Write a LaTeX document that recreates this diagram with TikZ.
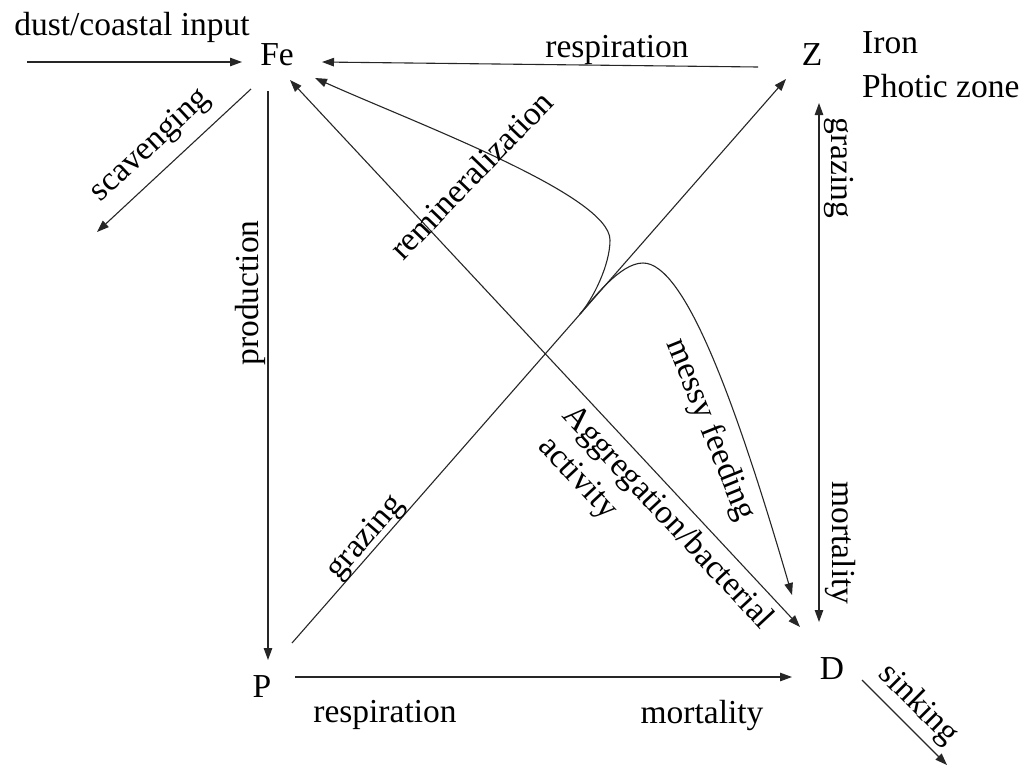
\documentclass[tikz,border=0pt]{standalone}
\usepackage{fontspec}
\setmainfont{Liberation Serif}
\usetikzlibrary{arrows.meta}
\begin{document}
\begin{tikzpicture}[x=1pt,y=-1pt,
  lbl/.style={font=\fontsize{33.5}{38}\selectfont, inner sep=0pt},
  flow/.style={line width=1.1pt, draw=black!85, -{Triangle[length=12pt,width=8.5pt]}},
  biflow/.style={line width=1.1pt, draw=black!85, {Triangle[length=12pt,width=8.5pt]}-{Triangle[length=12pt,width=8.5pt]}}
  ]
\useasboundingbox[fill=white] (0,0) rectangle (1027,769);

% compartments
\node[lbl, anchor=base] (Fe) at (277,65) {Fe};
\node[lbl, anchor=base] (Z) at (812,65) {Z};
\node[lbl, anchor=base] (P) at (262,697) {P};
\node[lbl, anchor=base] (D) at (832,679) {D};

% connector ends
\coordinate (inS) at (27,62);
\coordinate (FeW) at (242,62);
\coordinate (FeSW) at (251,89);
\coordinate (scavE) at (97,232);
\coordinate (FeS) at (268,91);
\coordinate (PN) at (268,660);
\coordinate (PE) at (295,677);
\coordinate (DW) at (792,677);
\coordinate (DSE) at (862,680);
\coordinate (sinkE) at (947,765);
\coordinate (ZW) at (758,67);
\coordinate (FeE) at (322,62);
\coordinate (ZS) at (819,103);
\coordinate (DN) at (819,622);
\coordinate (PNE) at (292,643);
\coordinate (ZSW) at (786,79);
\coordinate (FeSE) at (290,80);
\coordinate (DNW) at (800,627);
\coordinate (J) at (580,314);
\coordinate (FeR) at (315,78);
\coordinate (DNm) at (792,595);

% connectors
\draw[flow] (inS) -- (FeW);
\draw[flow] (FeSW) -- (scavE);
\draw[flow] (FeS) -- (PN);
\draw[flow] (PE) -- (DW);
\draw[flow] (DSE) -- (sinkE);
\draw[flow] (ZW) -- (FeE);
\draw[biflow] (ZS) -- (DN);
\draw[flow] (PNE) -- (ZSW);
\draw[biflow] (FeSE) -- (DNW);
\draw[flow] (J) .. controls (593,299) and (610,265) .. (610,240)
               .. controls (610,195) and (415,123) .. (FeR);
\draw[flow] (J) .. controls (593,299) and (620,263) .. (643,263)
               .. controls (685,263) and (736,403) .. (DNm);

% labels
\node[lbl, anchor=base] (tInput) at (132,35) {dust/coastal input};
\node[lbl, anchor=base] (tResp1) at (617,57) {respiration};
\node[lbl, anchor=base west] (tIron) at (862,53) {Iron};
\node[lbl, anchor=base west] (tPhotic) at (862,97) {Photic zone};
\node[lbl, rotate=43] (tScav) at (151,146) {scavenging};
\node[lbl, rotate=90] (tProd) at (250,293) {production};
\node[lbl, rotate=46] (tRemin) at (471,175) {remineralization};
\node[lbl, rotate=49] (tGraz1) at (366,538) {grazing};
\node[lbl, rotate=-47] (tAgg) at (667,518) {Aggregation/bacterial};
\node[lbl, rotate=-47] (tAct) at (577,479) {activity};
\node[lbl, rotate=-68] (tMessy) at (710,430) {messy feeding};
\node[lbl, rotate=-90] (tGraz2) at (839,168) {grazing};
\node[lbl, rotate=-90] (tMort1) at (840,543) {mortality};
\node[lbl, anchor=base] (tResp2) at (385,722) {respiration};
\node[lbl, anchor=base] (tMort2) at (702,723) {mortality};
\node[lbl, rotate=-45] (tSink) at (918,705) {sinking};
\end{tikzpicture}
\end{document}
